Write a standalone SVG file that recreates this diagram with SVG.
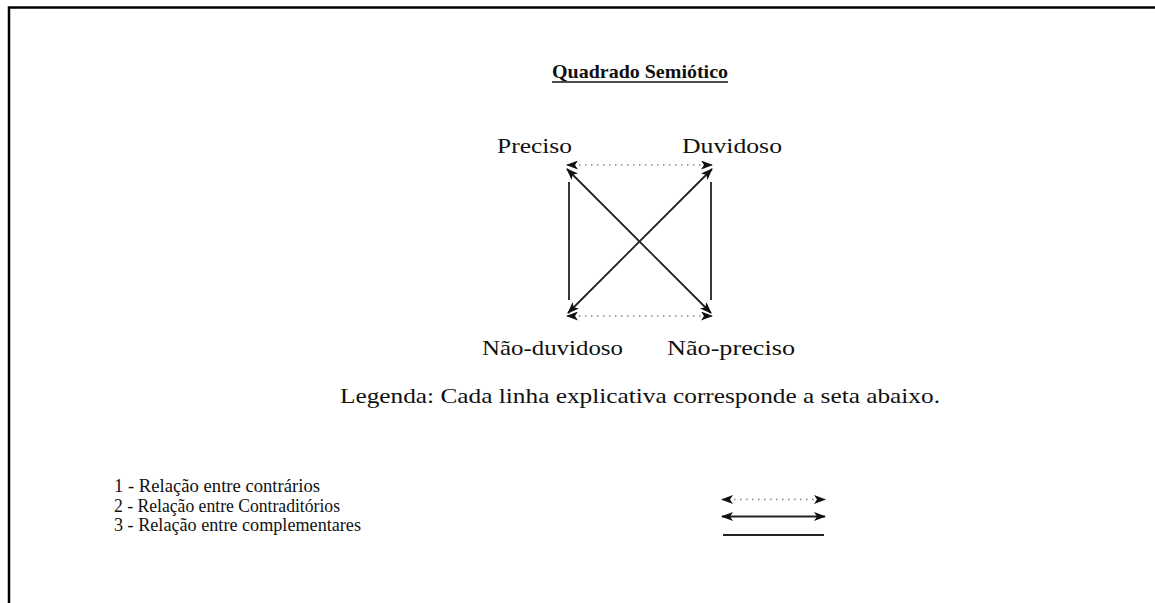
<svg xmlns="http://www.w3.org/2000/svg" width="1155" height="603" viewBox="0 0 1155 603">
<style>
text{font-family:"Liberation Serif","Times New Roman",serif;fill:#111}
.lbl{font-size:21px}
.leg{font-size:19px}
.solid{stroke:#222;stroke-width:1.8;fill:none}
.dot{stroke:#888;stroke-width:1.6;stroke-dasharray:1.5 4.5;fill:none}
</style>
<defs>
<marker id="ah" viewBox="0 0 12 9" refX="11" refY="4.5" markerWidth="12" markerHeight="9" markerUnits="userSpaceOnUse" orient="auto-start-reverse">
<path d="M0,0 L12,4.5 L0,9 L3,4.5 Z" fill="#111"/>
</marker>
</defs>
<rect width="1155" height="603" fill="#fff"/>
<g id="border" stroke="#000" stroke-width="2.5" fill="none">
<path d="M9,603 V7.5 H1155"/>
</g>
<g id="title"><text x="640" y="78" text-anchor="middle" font-weight="bold" font-size="19" textLength="176" lengthAdjust="spacingAndGlyphs">Quadrado Semiótico</text>
<line x1="552" y1="82" x2="728" y2="82" stroke="#111" stroke-width="1.4"/></g>
<g id="n-preciso"><text class="lbl" x="497" y="153" textLength="75" lengthAdjust="spacingAndGlyphs">Preciso</text></g>
<g id="n-duvidoso"><text class="lbl" x="682" y="153" textLength="100" lengthAdjust="spacingAndGlyphs">Duvidoso</text></g>
<g id="n-naoduvidoso"><text class="lbl" x="482" y="355" textLength="141" lengthAdjust="spacingAndGlyphs">Não-duvidoso</text></g>
<g id="n-naopreciso"><text class="lbl" x="667" y="355" textLength="128" lengthAdjust="spacingAndGlyphs">Não-preciso</text></g>
<g id="connectors">
<line class="dot" x1="567" y1="165" x2="712" y2="165" marker-start="url(#ah)" marker-end="url(#ah)"/>
<line class="dot" x1="567" y1="316" x2="712" y2="316" marker-start="url(#ah)" marker-end="url(#ah)"/>
<line class="solid" x1="567" y1="169" x2="711" y2="313" marker-start="url(#ah)" marker-end="url(#ah)"/>
<line class="solid" x1="712" y1="169" x2="568" y2="313" marker-start="url(#ah)" marker-end="url(#ah)"/>
<line class="solid" x1="569" y1="182" x2="569" y2="300"/>
<line class="solid" x1="711" y1="182" x2="711" y2="300"/>
</g>
<g id="legenda"><text class="lbl" x="640" y="403" text-anchor="middle" textLength="600" lengthAdjust="spacingAndGlyphs">Legenda: Cada linha explicativa corresponde a seta abaixo.</text></g>
<g id="legend-items">
<text class="leg" x="114" y="492" textLength="206" lengthAdjust="spacingAndGlyphs">1 - Relação entre contrários</text>
<text class="leg" x="114" y="512" textLength="226" lengthAdjust="spacingAndGlyphs">2 - Relação entre Contraditórios</text>
<text class="leg" x="114" y="531" textLength="247" lengthAdjust="spacingAndGlyphs">3 - Relação entre complementares</text>
<line class="dot" x1="722" y1="499.5" x2="825" y2="499.5" marker-start="url(#ah)" marker-end="url(#ah)"/>
<line class="solid" x1="722" y1="516.5" x2="825" y2="516.5" marker-start="url(#ah)" marker-end="url(#ah)"/>
<line class="solid" x1="723" y1="535" x2="824" y2="535"/>
</g>
</svg>
